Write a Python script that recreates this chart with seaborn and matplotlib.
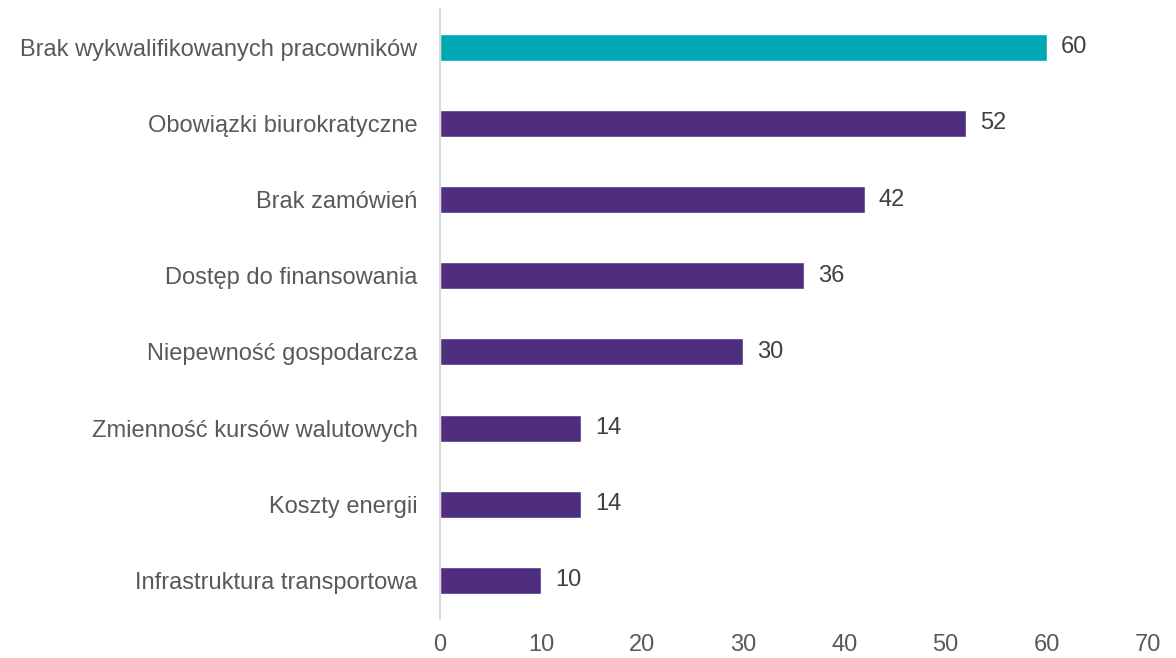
import pandas as pd
import numpy as np
import matplotlib.pyplot as plt
import seaborn as sns

# dane
kategorie = ['Brak wykwalifikowanych pracowników', 'Obowiązki biurokratyczne',
             'Brak zamówień', 'Dostęp do finansowania', 'Niepewność gospodarcza',
             'Zmienność kursów walutowych', 'Koszty energii',
             'Infrastruktura transportowa']
wartosci = [60, 52, 42, 36, 30, 14, 14, 10]
kolory = ['#00A8B5'] + ['#4F2D7F'] * 7

df = pd.DataFrame({'kategoria': kategorie, 'wartosc': wartosci})

sns.set_style('white')
plt.rcParams['font.family'] = ['Liberation Sans', 'DejaVu Sans']

fig = plt.figure(figsize=(11.76, 6.58), dpi=100)
ax = fig.add_axes([0.374, 0.06, 0.602, 0.926])

sns.barplot(data=df, x='wartosc', y='kategoria', hue='kategoria',
            palette=kolory, legend=False, width=0.355, ax=ax, saturation=1)

# etykiety wartości
for i, v in enumerate(wartosci):
    ax.text(v + 1.4, i, str(v), va='center', ha='left', fontsize=17, color='#404040')

ax.set_xlim(0, 70)
ax.set_ylim(7.5, -0.5)
ax.set_xticks(range(0, 71, 10))
ax.set_xlabel('')
ax.set_ylabel('')
ax.tick_params(axis='both', length=0, labelsize=17, labelcolor='#595959')
ax.tick_params(axis='y', pad=16)
ax.tick_params(axis='x', pad=11)

for s in ['top', 'right', 'bottom']:
    ax.spines[s].set_visible(False)
ax.spines['left'].set_color('#D9D9D9')
ax.spines['left'].set_linewidth(1.5)

fig.savefig('out.png', dpi=100)
